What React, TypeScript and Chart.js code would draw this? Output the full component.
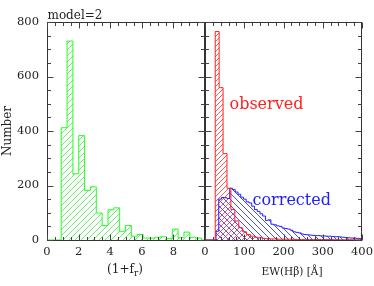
import React, { useEffect, useRef } from 'react';
import { Chart, registerables } from 'chart.js';

Chart.register(...registerables);

// ---------------- data ----------------
const greenStart = 0.9;
const greenWidth = 0.37;
const greenCounts = [412, 730, 243, 383, 182, 195, 99, 53, 111, 118, 32, 53, 14, 20, 7, 7, 10, 12, 5, 40, 8, 29, 10, 7];

const redStart = 26;
const redWidth = 10;
const redCounts = [765, 559, 317, 190, 112, 70, 45, 30, 20, 14, 10, 8, 6, 5, 4, 4, 3, 3, 3, 3, 2, 2, 2, 2, 2, 2, 2, 2, 2, 2, 1, 1, 1, 1, 1, 1, 1];

const blueStart = 28;
const blueWidth = 7;
const blueCounts = [32, 150, 156, 155, 152, 190, 185, 176, 168, 157, 150, 140, 136, 124, 112, 105, 96, 88, 72, 74, 58, 56, 52, 50, 44, 42, 40, 36, 30, 28, 26, 22, 20, 19, 18, 17, 16, 16, 15, 15, 14, 14, 13, 12, 12, 11, 10, 9, 8, 7, 7, 6, 5];

const leftXLabels = [0, 2, 4, 6, 8];
const rightXLabels = [0, 100, 200, 300, 400];
const yLabels = [0, 200, 400, 600, 800];

const FONT = '"DejaVu Serif", serif';
const TICK_FONT_SIZE = 11.5;

function histPoints(start: number, width: number, counts: number[], xMin: number, xMax: number) {
  const pts: { x: number; y: number }[] = [{ x: xMin, y: 0 }];
  counts.forEach((c, i) => pts.push({ x: start + i * width, y: c }));
  pts.push({ x: start + counts.length * width, y: 0 });
  pts.push({ x: xMax, y: 0 });
  return pts;
}

function isMultiple(v: number, step: number) {
  const r = v / step;
  return Math.abs(r - Math.round(r)) < 1e-6;
}

type HatchSpec = { color: string; spacing: number; dir: number };

function hatchPlugin(specs: HatchSpec[]) {
  return {
    id: 'hatch',
    beforeDatasetsDraw(chart: any) {
      const { ctx, chartArea: a } = chart;
      const baseY = chart.scales.y.getPixelForValue(0);
      chart.data.datasets.forEach((_ds: any, di: number) => {
        const meta = chart.getDatasetMeta(di);
        const pts = meta.data;
        const spec = specs[di];
        if (!spec || !pts.length) return;
        ctx.save();
        ctx.beginPath();
        ctx.rect(a.left, a.top, a.right - a.left, a.bottom - a.top);
        ctx.clip();
        ctx.beginPath();
        ctx.moveTo(pts[0].x, baseY);
        for (let i = 0; i < pts.length - 1; i++) {
          ctx.lineTo(pts[i].x, pts[i].y);
          ctx.lineTo(pts[i + 1].x, pts[i].y);
        }
        ctx.lineTo(pts[pts.length - 1].x, baseY);
        ctx.closePath();
        ctx.clip();
        ctx.globalAlpha = 1;
        ctx.setLineDash([]);
        ctx.strokeStyle = spec.color;
        ctx.lineWidth = 1;
        ctx.beginPath();
        const H = Math.round(a.bottom - a.top);
        const x0 = Math.round(a.left) - H - spec.spacing;
        for (let k = x0; k <= a.right + H; k += spec.spacing) {
          if (spec.dir > 0) {
            ctx.moveTo(k, a.bottom);
            ctx.lineTo(k + H, a.bottom - H);
          } else {
            ctx.moveTo(k, a.bottom - H);
            ctx.lineTo(k + H, a.bottom);
          }
        }
        ctx.stroke();
        ctx.restore();
      });
    },
  };
}

function frameTicksPlugin(xMinor: number, xMajor: number, yMinor: number, yMajor: number) {
  return {
    id: 'frameTicks',
    afterDatasetsDraw(chart: any) {
      const { ctx, chartArea: a, scales } = chart;
      const xs = scales.x, ys = scales.y;
      const L = a.left + 0.5, R = a.right - 0.5, T = a.top + 0.5, B = a.bottom + 0.5;
      ctx.save();
      ctx.strokeStyle = '#333';
      ctx.lineWidth = 1;
      ctx.strokeRect(L, T, R - L, B - T);
      ctx.strokeStyle = '#444';
      ctx.beginPath();
      for (let v = xs.min; v <= xs.max + 1e-9; v += xMinor) {
        const len = isMultiple(v, xMajor) ? 6 : 3.5;
        const px = Math.round(xs.getPixelForValue(v)) + 0.5;
        ctx.moveTo(px, B); ctx.lineTo(px, B - len);
        ctx.moveTo(px, T); ctx.lineTo(px, T + len);
      }
      for (let v = ys.min; v <= ys.max + 1e-9; v += yMinor) {
        const len = isMultiple(v, yMajor) ? 6 : 3.5;
        const py = Math.round(ys.getPixelForValue(v)) + 0.5;
        ctx.moveTo(L, py); ctx.lineTo(L + len, py);
        ctx.moveTo(R, py); ctx.lineTo(R - len, py);
      }
      ctx.stroke();
      ctx.restore();
    },
  };
}

function fitX(scale: any) {
  scale.height = 46;
  scale.paddingLeft = 0;
  scale.paddingRight = 0;
}
function fitYLeft(scale: any) {
  scale.width = 47;
  scale.paddingTop = 0;
  scale.paddingBottom = 0;
}
function fitYNone(scale: any) {
  scale.width = 0;
  scale.paddingTop = 0;
  scale.paddingBottom = 0;
}

export default function App() {
  const leftRef = useRef<HTMLCanvasElement>(null);
  const rightRef = useRef<HTMLCanvasElement>(null);

  useEffect(() => {
    const lc = leftRef.current!;
    const rc = rightRef.current!;

    const tickFont = { family: FONT, size: TICK_FONT_SIZE };

    const leftText = {
      id: 'leftText',
      afterDraw(chart: any) {
        const ctx = chart.ctx as CanvasRenderingContext2D;
        ctx.save();
        ctx.fillStyle = '#222';
        ctx.font = `12px ${FONT}`;
        ctx.textBaseline = 'alphabetic';
        ctx.textAlign = 'left';
        ctx.fillText('model=2', 47.5, 19);
        ctx.save();
        ctx.translate(8, 131);
        ctx.rotate(-Math.PI / 2);
        ctx.textAlign = 'center';
        ctx.textBaseline = 'middle';
        ctx.fillText('Number', 0, 0);
        ctx.restore();
        const p1 = '(1+f', p2 = 'r', p3 = ')';
        ctx.font = `12px ${FONT}`;
        const w1 = ctx.measureText(p1).width;
        const w3 = ctx.measureText(p3).width;
        ctx.font = `9px ${FONT}`;
        const w2 = ctx.measureText(p2).width;
        const cx = (chart.chartArea.left + chart.chartArea.right) / 2 - 1;
        let x = cx - (w1 + w2 + w3) / 2;
        const base = 273;
        ctx.font = `12px ${FONT}`;
        ctx.fillText(p1, x, base);
        x += w1;
        ctx.font = `9px ${FONT}`;
        ctx.fillText(p2, x, base + 3);
        x += w2;
        ctx.font = `12px ${FONT}`;
        ctx.fillText(p3, x, base);
        ctx.restore();
      },
    };

    const rightText = {
      id: 'rightText',
      afterDraw(chart: any) {
        const ctx = chart.ctx as CanvasRenderingContext2D;
        ctx.save();
        ctx.textBaseline = 'alphabetic';
        ctx.textAlign = 'left';
        ctx.font = `16px ${FONT}`;
        ctx.fillStyle = '#ff2020';
        ctx.fillText('observed', 29.5, 109);
        ctx.fillStyle = '#2020ff';
        ctx.fillText('corrected', 52.5, 205);
        ctx.fillStyle = '#222';
        ctx.font = `10.5px ${FONT}`;
        ctx.textAlign = 'center';
        ctx.fillText('EW(H\u03b2) [\u00c5]', 92, 275);
        ctx.restore();
      },
    };

    const baseScales = (xMin: number, xMax: number, xStep: number, xLabels: number[], showY: boolean) => ({
      x: {
        type: 'linear' as const,
        min: xMin,
        max: xMax,
        afterFit: fitX,
        grid: { display: false, drawTicks: false },
        border: { display: false },
        ticks: {
          stepSize: xStep,
          autoSkip: false,
          maxRotation: 0,
          padding: 5,
          font: tickFont,
          color: '#222',
          callback: (v: any) => (xLabels.includes(Number(v)) ? String(v) : ''),
        },
      },
      y: {
        type: 'linear' as const,
        min: 0,
        max: 800,
        display: showY,
        afterFit: showY ? fitYLeft : fitYNone,
        grid: { display: false, drawTicks: false },
        border: { display: false },
        ticks: {
          stepSize: 200,
          padding: 8,
          font: tickFont,
          color: '#222',
          callback: (v: any) => (yLabels.includes(Number(v)) ? String(v) : ''),
        },
      },
    });

    const common = {
      animation: false as const,
      responsive: false,
      maintainAspectRatio: false,
      plugins: { legend: { display: false }, tooltip: { enabled: false } },
      elements: { point: { radius: 0 } },
    };

    const left = new Chart(lc, {
      type: 'line',
      data: {
        datasets: [
          {
            data: histPoints(greenStart, greenWidth, greenCounts, 0, 10),
            borderColor: '#22ff22',
            borderWidth: 1,
            fill: false,
            stepped: 'before',
            pointRadius: 0,
          },
        ],
      },
      options: {
        ...common,
        layout: { padding: { left: 0, top: 22, right: 1, bottom: 0 } },
        scales: baseScales(0, 10, 2, leftXLabels, true),
      } as any,
      plugins: [hatchPlugin([{ color: '#66f066', spacing: 6, dir: 1 }]), frameTicksPlugin(0.5, 2, 50, 200), leftText],
    });

    const right = new Chart(rc, {
      type: 'line',
      data: {
        datasets: [
          {
            data: histPoints(redStart, redWidth, redCounts, 0, 400),
            borderColor: '#ff2020',
            borderWidth: 1,
            fill: false,
            stepped: 'before',
            pointRadius: 0,
          },
          {
            data: histPoints(blueStart, blueWidth, blueCounts, 0, 400),
            borderColor: '#2020ff',
            borderWidth: 1,
            fill: false,
            stepped: 'before',
            pointRadius: 0,
          },
        ],
      },
      options: {
        ...common,
        layout: { padding: { left: 5, top: 22, right: 12, bottom: 0 } },
        scales: baseScales(0, 400, 100, rightXLabels, false),
      } as any,
      plugins: [
        hatchPlugin([
          { color: '#ff5a5a', spacing: 5, dir: 1 },
          { color: '#4a4aff', spacing: 6, dir: -1 },
        ]),
        frameTicksPlugin(20, 100, 50, 200),
        rightText,
      ],
    });

    return () => {
      left.destroy();
      right.destroy();
    };
  }, []);

  return (
    <div style={{ position: 'fixed', left: 0, top: 0, width: 374, height: 286, background: '#fff' }}>
      <canvas ref={leftRef} width={206} height={286} style={{ position: 'absolute', left: 0, top: 0 }} />
      <canvas ref={rightRef} width={174} height={286} style={{ position: 'absolute', left: 200, top: 0 }} />
    </div>
  );
}
